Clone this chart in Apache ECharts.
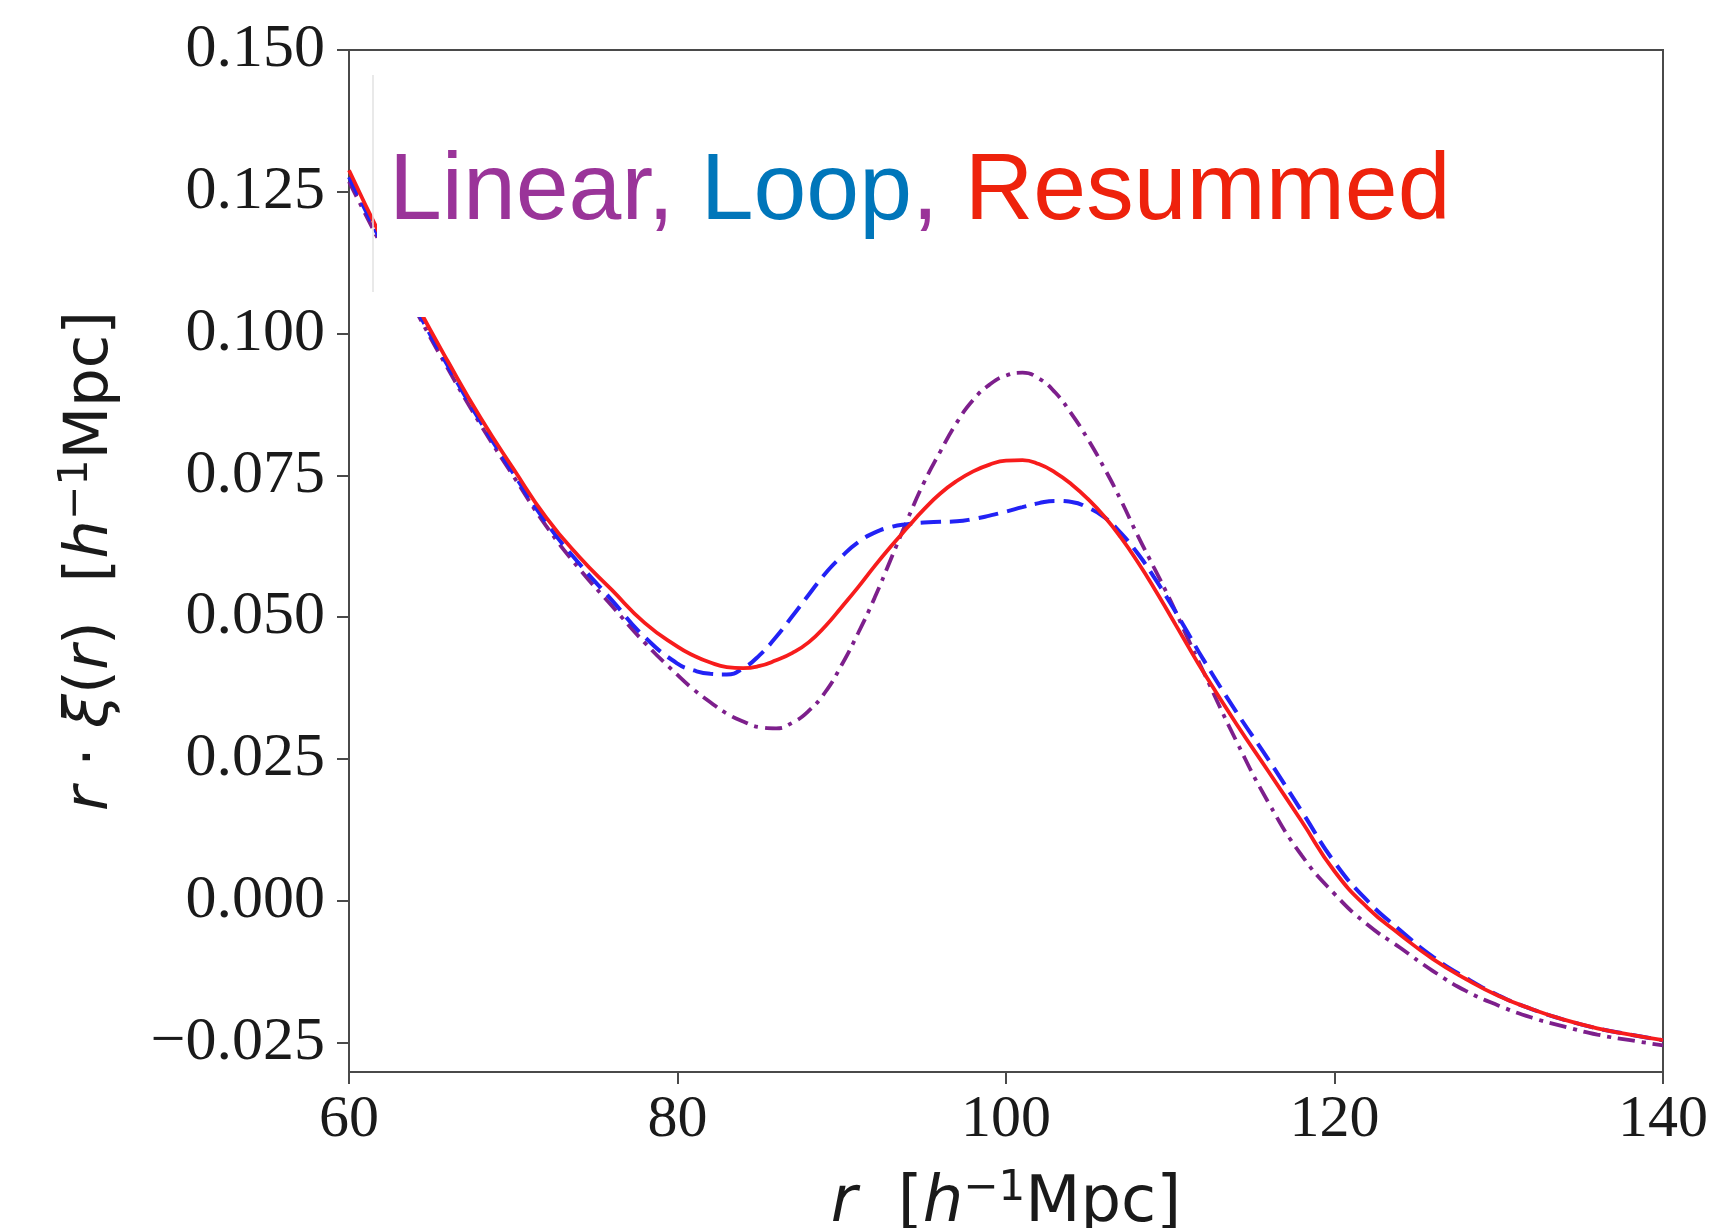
<!DOCTYPE html>
<html>
<head>
<meta charset="utf-8">
<script src="https://cdn.jsdelivr.net/npm/echarts@6/dist/echarts.min.js"></script>
<style>
  html, body { margin: 0; padding: 0; background: #ffffff; }
  #chart { width: 1733px; height: 1228px; }
</style>
</head>
<body>
<div id="chart"></div>
<script>
// r in h^-1 Mpc
const rValues = [60,62,64,66,68,70,72,74,76,78,
  80,81,82,83,84,85,86,87,88,89,90,91,92,93,94,95,96,97,98,99,100,
  101,102,103,104,105,106,107,108,109,110,111,112,
  114,116,118,120,122,124,126,128,130,132,134,136,138,140];

// Linear (purple, dash-dot)
const linear = [0.1268,0.1154,0.1044,0.0939,0.0840,0.0749,0.0661,0.0586,0.0520,0.0455,
  0.0398,0.0372,0.0350,0.0330,0.0316,0.0306,0.0304,0.0314,0.0335,0.0368,0.0416,0.0472,0.0534,0.0603,0.0672,0.0737,0.0792,0.0843,0.0883,0.0910,0.0926,
  0.0931,0.0921,0.0896,0.0858,0.0813,0.0762,0.0706,0.0645,0.0588,0.0530,0.0467,0.0405,
  0.0283,0.0172,0.0080,0.0012,-0.0042,-0.0083,-0.0124,-0.0159,-0.0185,-0.0206,-0.0222,-0.0236,-0.0246,-0.0255];

// Loop (blue, dashed)
const loop = [0.1276,0.1160,0.1049,0.0944,0.0845,0.0754,0.0667,0.0595,0.0530,0.0465,
  0.0418,0.0406,0.0400,0.0399,0.0410,0.0433,0.0465,0.0502,0.0540,0.0577,0.0607,0.0632,0.0649,0.0659,0.0664,0.0667,0.0668,0.0669,0.0673,0.0679,0.0686,
  0.0694,0.0701,0.0705,0.0703,0.0693,0.0676,0.0648,0.0613,0.0571,0.0525,0.0476,0.0426,
  0.0334,0.0248,0.0158,0.0068,0.0000,-0.0052,-0.0099,-0.0136,-0.0167,-0.0191,-0.0210,-0.0225,-0.0236,-0.0246];

// Resummed (red, solid)
const resummed = [0.1288,0.1168,0.1057,0.0952,0.0852,0.0762,0.0676,0.0607,0.0548,0.0490,
  0.0448,0.0432,0.0420,0.0412,0.0410,0.0414,0.0424,0.0437,0.0456,0.0484,0.0518,0.0553,0.0590,0.0625,0.0658,0.0690,0.0718,0.0740,0.0757,0.0769,0.0776,
  0.0777,0.0770,0.0755,0.0734,0.0708,0.0677,0.0640,0.0598,0.0552,0.0503,0.0453,0.0404,
  0.0313,0.0227,0.0140,0.0052,-0.0012,-0.0060,-0.0103,-0.0138,-0.0168,-0.0191,-0.0210,-0.0225,-0.0236,-0.0246];

const yTicks = [-0.025, 0, 0.025, 0.05, 0.075, 0.1, 0.125, 0.15];

const pairs = arr => rValues.map((r, i) => [r, arr[i]]);

const chart = echarts.init(document.getElementById('chart'), null, { renderer: 'canvas' });

const frameColor = '#4a4a4a';
const serif = '"Liberation Serif", "DejaVu Serif", serif';
const sans = '"DejaVu Sans", sans-serif';

chart.setOption({
  backgroundColor: '#ffffff',
  animation: false,
  grid: {
    left: 349, top: 50, right: 70, bottom: 156,
    outerBoundsMode: 'none', containLabel: false,
    show: true, borderColor: frameColor, borderWidth: 2, backgroundColor: 'transparent'
  },
  xAxis: {
    type: 'value', min: 60, max: 140, interval: 20,
    axisLine: { show: true, onZero: false, lineStyle: { color: frameColor, width: 2 } },
    axisTick: { show: true, inside: false, length: 12, lineStyle: { color: frameColor, width: 2 } },
    splitLine: { show: false },
    axisLabel: { show: true, margin: 18, color: '#1a1a1a', fontFamily: serif, fontSize: 60,
      formatter: v => String(v) },
    name: '{it|r}  [{it|h}{sup|−1}Mpc]',
    nameLocation: 'middle', nameGap: 96,
    nameTextStyle: {
      color: '#1a1a1a', fontFamily: sans, fontSize: 64, lineHeight: 72,
      rich: {
        it: { fontFamily: sans, fontStyle: 'italic', fontSize: 64, color: '#1a1a1a' },
        sup: { fontFamily: sans, fontSize: 42, verticalAlign: 'top', color: '#1a1a1a' }
      }
    }
  },
  yAxis: {
    type: 'value', min: -0.0302, max: 0.15,
    axisLine: { show: true, onZero: false, lineStyle: { color: frameColor, width: 2 } },
    axisTick: { show: true, inside: false, length: 12, customValues: yTicks, lineStyle: { color: frameColor, width: 2 } },
    splitLine: { show: false },
    axisLabel: { show: true, margin: 24, color: '#1a1a1a', fontFamily: serif, fontSize: 62,
      customValues: yTicks,
      formatter: v => (v < 0 ? '−' : '') + Math.abs(v).toFixed(3) },
    name: '{it|r} · {it|ξ}({it|r})  [{it|h}{sup|−1}Mpc]',
    nameLocation: 'middle', nameGap: 223, nameRotate: 90,
    nameTextStyle: {
      color: '#1a1a1a', fontFamily: sans, fontSize: 61, lineHeight: 70,
      rich: {
        it: { fontFamily: sans, fontStyle: 'italic', fontSize: 61, color: '#1a1a1a' },
        sup: { fontFamily: sans, fontSize: 41, verticalAlign: 'top', color: '#1a1a1a' }
      }
    }
  },
  series: [
    {
      name: 'Linear', type: 'line', data: pairs(linear), smooth: 0.5, symbol: 'none',
      lineStyle: { color: '#7d1f8c', width: 3.8, type: [17, 7, 4, 7] }, z: 3
    },
    {
      name: 'Loop', type: 'line', data: pairs(loop), smooth: 0.5, symbol: 'none',
      lineStyle: { color: '#2222f5', width: 4, type: [20, 9] }, z: 4
    },
    {
      name: 'Resummed', type: 'line', data: pairs(resummed), smooth: 0.5, symbol: 'none',
      lineStyle: { color: '#f71c1c', width: 3.8, type: 'solid' }, z: 5
    }
  ],
  graphic: [
    {
      type: 'rect', z: 100,
      shape: { x: 377, y: 52, width: 1130, height: 265 },
      style: { fill: '#ffffff' }
    },
    {
      type: 'line', z: 101,
      shape: { x1: 373, y1: 75, x2: 373, y2: 292 },
      style: { stroke: '#e2e2e2', lineWidth: 1.5 }
    },
    {
      type: 'text', z: 102, x: 389, y: 193,
      style: {
        text: '{p|Linear, }{b|Loop}{p|, }{r|Resummed}',
        verticalAlign: 'middle', align: 'left',
        font: '95px "Liberation Sans", Arial, sans-serif',
        rich: {
          p: { fill: '#9a3499', fontSize: 95, fontFamily: '"Liberation Sans", Arial, sans-serif' },
          b: { fill: '#0076ba', fontSize: 95, fontFamily: '"Liberation Sans", Arial, sans-serif' },
          r: { fill: '#ee220c', fontSize: 95, fontFamily: '"Liberation Sans", Arial, sans-serif' }
        }
      }
    }
  ]
});
</script>
</body>
</html>
